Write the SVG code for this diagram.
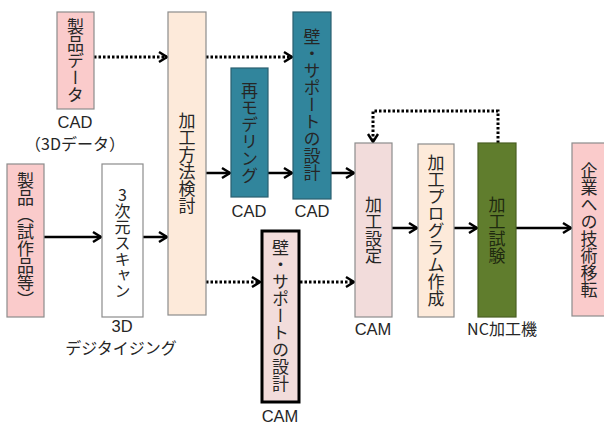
<svg xmlns="http://www.w3.org/2000/svg" width="604" height="426" viewBox="0 0 604 426">
<style>
.box{stroke:#8c8c8c;stroke-width:1.2}
.pink{fill:#FACBCB}
.peach{fill:#FDEADA}
.teal{fill:#31859C;stroke:#2a5f70}
.lpink{fill:#F2DCDB}
.olive{fill:#607D2D;stroke:#4a5f22}
.white{fill:#ffffff}
.vt{font-family:"Noto Sans CJK JP","Noto Sans",sans-serif;font-size:17px;fill:#262626;writing-mode:vertical-rl;text-orientation:upright;text-anchor:middle}
.lb{font-family:"Noto Sans CJK JP","Noto Sans",sans-serif;font-size:16px;fill:#262626;text-anchor:middle}
.la{font-family:"Liberation Sans","Noto Sans CJK JP",sans-serif;font-size:16.5px;fill:#262626;text-anchor:middle}
.sol{stroke:#000;stroke-width:2.5;fill:none;marker-end:url(#ah)}
.dot{stroke:#000;stroke-width:3;stroke-dasharray:2.5 2;fill:none;marker-end:url(#ah)}
</style>
<defs>
<marker id="ah" markerUnits="userSpaceOnUse" markerWidth="12" markerHeight="14" refX="10" refY="7" orient="auto">
<path d="M2,2 L10,7 L2,12" fill="none" stroke="#000" stroke-width="2.4"/>
</marker>
</defs>
<rect width="604" height="426" fill="#fff"/>

<g id="connectors">
<line class="dot" x1="94" y1="57" x2="167" y2="57"/>
<line class="sol" x1="44" y1="237" x2="101" y2="237"/>
<line class="sol" x1="143" y1="237" x2="167" y2="237"/>
<line class="dot" x1="206" y1="57" x2="292" y2="57"/>
<line class="sol" x1="206" y1="173" x2="230" y2="173"/>
<line class="sol" x1="268" y1="173" x2="292" y2="173"/>
<line class="sol" x1="331" y1="173" x2="354" y2="173"/>
<line class="dot" x1="206" y1="282" x2="260" y2="282"/>
<line class="dot" x1="300" y1="282" x2="354" y2="282"/>
<line class="sol" x1="392" y1="228" x2="417" y2="228"/>
<line class="sol" x1="454" y1="228" x2="477" y2="228"/>
<line class="sol" x1="516" y1="228" x2="571" y2="228"/>
<polyline class="dot" points="498,143 498,111 373,111 373,142"/>
</g>

<g id="seihin-data">
<rect class="box pink" x="57" y="12" width="37" height="97"/>
<text class="vt" x="75.5" y="60.5">製品データ</text>
<text class="la" x="75" y="128">CAD</text>
<text class="lb" x="75" y="150">（3Dデータ）</text>
</g>

<g id="seihin">
<rect class="box pink" x="7" y="164" width="37" height="153"/>
<text class="vt" x="25.5" y="240.5">製品（試作品等）</text>
</g>

<g id="scan">
<rect class="box white" x="102" y="164" width="41" height="153"/>
<text class="vt" x="122.5" y="243" style="font-size:16px">3次元スキャン</text>
<text class="la" x="122" y="332">3D</text>
<text class="lb" x="121" y="354">デジタイジング</text>
</g>

<g id="kakou-houhou">
<rect class="box peach" x="168" y="12" width="38" height="303"/>
<text class="vt" x="187" y="163">加工方法検討</text>
</g>

<g id="remodeling">
<rect class="box teal" x="231" y="68" width="37" height="129"/>
<text class="vt" x="249.5" y="133">再モデリング</text>
<text class="la" x="249" y="217">CAD</text>
</g>

<g id="support-cad">
<rect class="box teal" x="293" y="12" width="38" height="187"/>
<text class="vt" x="312" y="105">壁・サポートの設計</text>
<text class="la" x="312" y="217">CAD</text>
</g>

<g id="support-cam">
<rect x="262" y="231" width="37" height="171" fill="#F2DCDB" stroke="#000" stroke-width="3"/>
<text class="vt" x="280.5" y="316">壁・サポートの設計</text>
<text class="la" x="280" y="422">CAM</text>
</g>

<g id="kakou-settei">
<rect class="box lpink" x="355" y="143" width="37" height="174"/>
<text class="vt" x="373.5" y="230">加工設定</text>
<text class="la" x="373" y="335">CAM</text>
</g>

<g id="program">
<rect class="box peach" x="418" y="144" width="36" height="173"/>
<text class="vt" x="436" y="231">加工プログラム作成</text>
</g>

<g id="shiken">
<rect class="box olive" x="478" y="143" width="38" height="174"/>
<text class="vt" x="497" y="230" style="fill:#1f2a10">加工試験</text>
<text class="lb" x="502" y="335">NC加工機</text>
</g>

<g id="kigyou">
<rect class="box pink" x="572" y="143" width="40" height="173"/>
<text class="vt" x="589" y="230">企業への技術移転</text>
</g>
</svg>
